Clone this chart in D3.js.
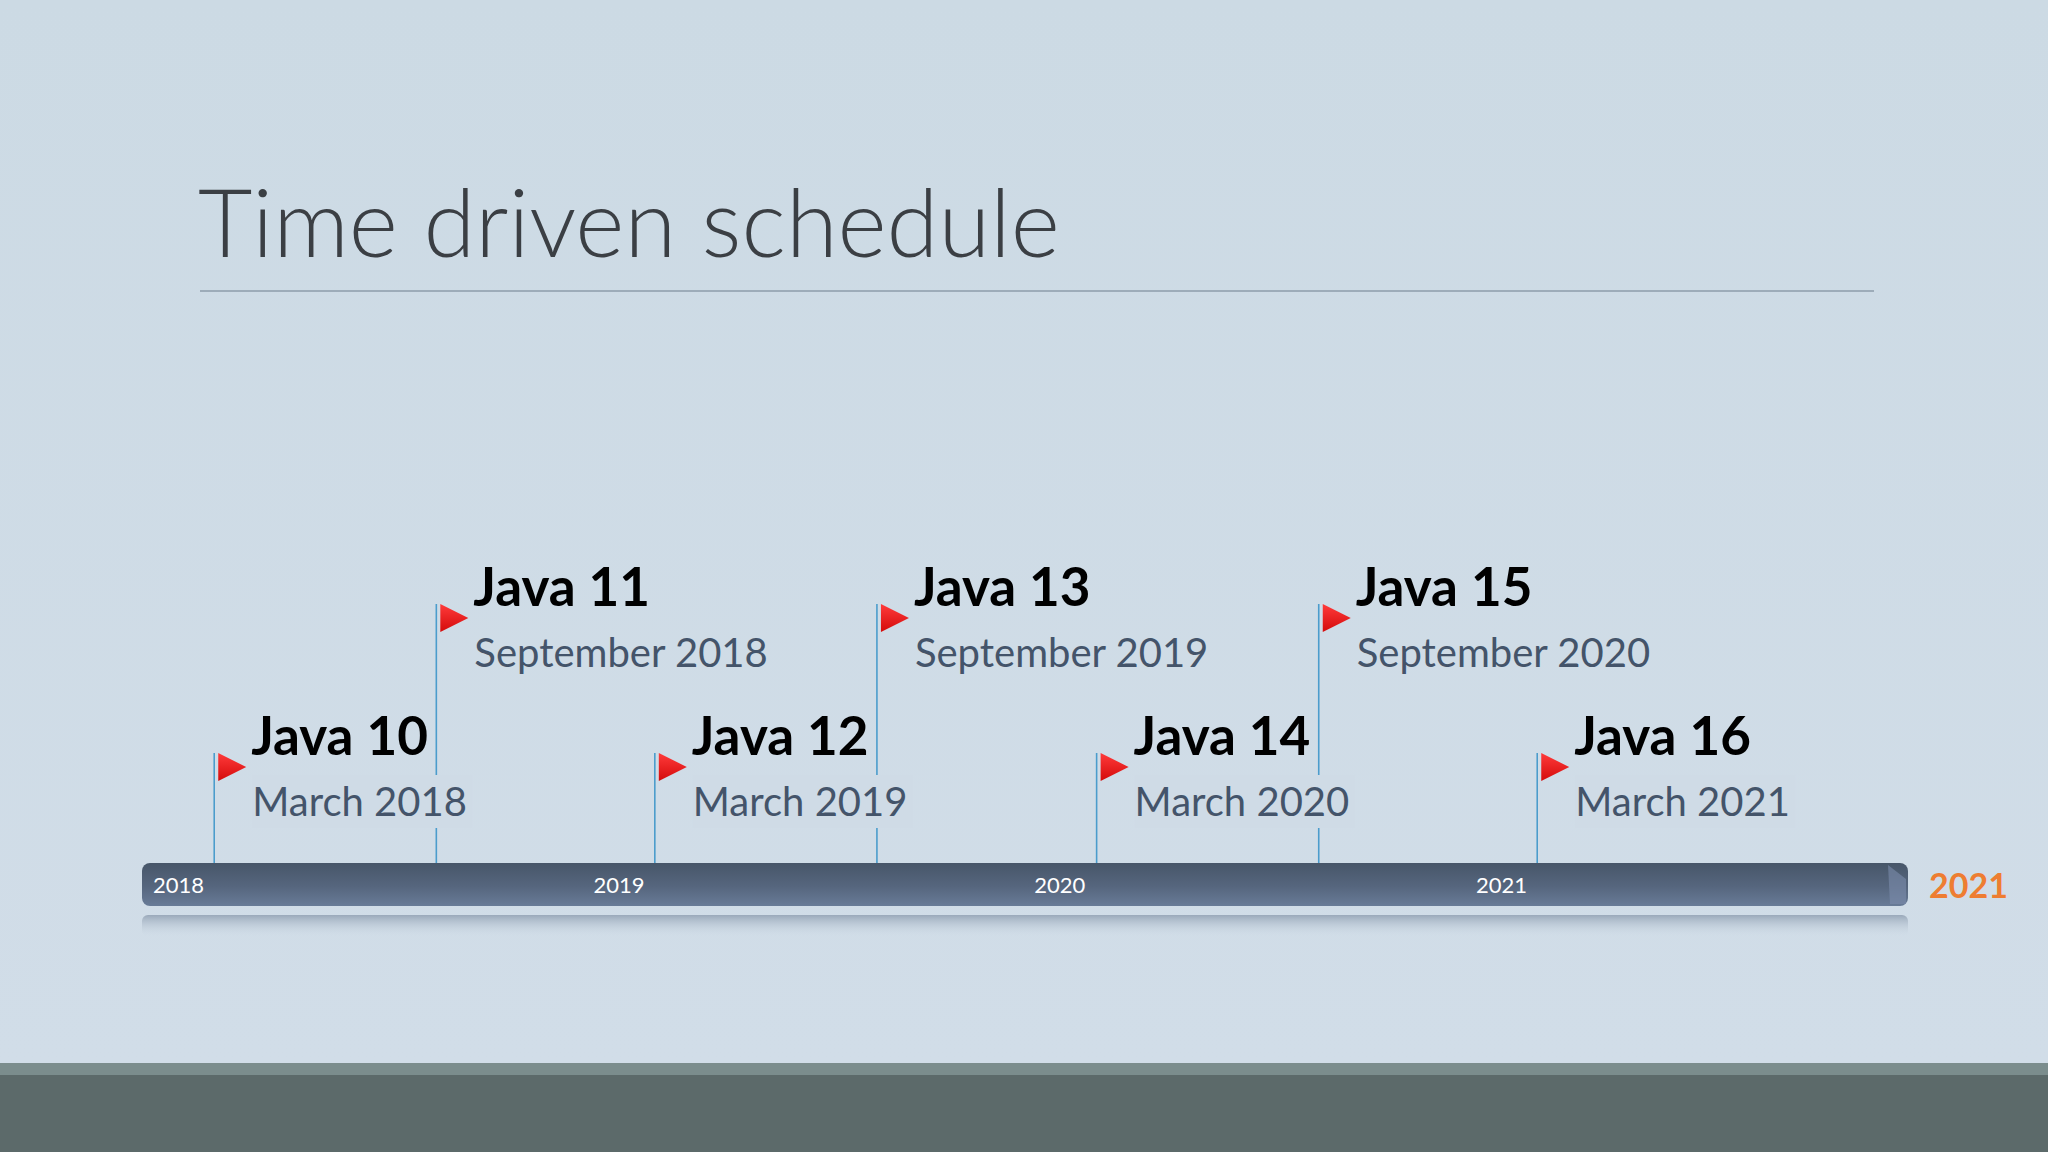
<!DOCTYPE html>
<html><head><meta charset="utf-8">
<script src="https://cdn.jsdelivr.net/npm/d3@7"></script>
<style>html,body{margin:0;padding:0;overflow:hidden}svg{display:block}</style>
</head><body>
<svg id="c" width="2048" height="1152"></svg>
<script>
const releases = ["Java 10","Java 11","Java 12","Java 13","Java 14","Java 15","Java 16"];
const releaseDates = ["2018-03-01","2018-09-01","2019-03-01","2019-09-01","2020-03-01","2020-09-01","2021-03-01"];
const releaseLabels = ["March 2018","September 2018","March 2019","September 2019","March 2020","September 2020","March 2021"];
const rows = [0,1,0,1,0,1,0];
const yearTicks = ["2018","2019","2020","2021"];
const endLabel = "2021";
const title = "Time driven schedule";

const svg = d3.select("#c");
const defs = svg.append("defs");
const bg = defs.append("linearGradient").attr("id","bg").attr("x1",0).attr("y1",0).attr("x2",0).attr("y2",1);
bg.append("stop").attr("offset","0%").attr("stop-color","#ccdae4");
bg.append("stop").attr("offset","100%").attr("stop-color","#d1dde8");
const bar = defs.append("linearGradient").attr("id","bar").attr("x1",0).attr("y1",0).attr("x2",0).attr("y2",1);
bar.append("stop").attr("offset","0%").attr("stop-color","#475669");
bar.append("stop").attr("offset","55%").attr("stop-color","#56667e");
bar.append("stop").attr("offset","100%").attr("stop-color","#687b97");
const refl = defs.append("linearGradient").attr("id","refl").attr("x1",0).attr("y1",0).attr("x2",0).attr("y2",1);
refl.append("stop").attr("offset","0%").attr("stop-color","#9aa9ba");
refl.append("stop").attr("offset","100%").attr("stop-color","#cfdbe6").attr("stop-opacity",0);
const flag = defs.append("linearGradient").attr("id","flag").attr("x1",0).attr("y1",0).attr("x2",0).attr("y2",1);
flag.append("stop").attr("offset","0%").attr("stop-color","#ff3b3b");
flag.append("stop").attr("offset","100%").attr("stop-color","#d40b0b");

svg.append("rect").attr("width",2048).attr("height",1063).attr("fill","url(#bg)");
svg.append("rect").attr("y",1063).attr("width",2048).attr("height",12).attr("fill","#7b8d8d");
svg.append("rect").attr("y",1075).attr("width",2048).attr("height",77).attr("fill","#5c6a6a");

svg.append("text").attr("x",198).attr("y",257).text(title)
  .attr("font-family","Lato").attr("font-weight",300).attr("font-size",94).attr("fill","#3b3f44");
svg.append("line").attr("x1",200).attr("x2",1874).attr("y1",291).attr("y2",291).attr("stroke","#8d9caa").attr("stroke-width",1.5);

const parse = d3.timeParse("%Y-%m-%d");
const x = d3.scaleTime().domain([parse("2018-01-01"), parse("2021-01-01")]).range([143,1466]);
const barTop = 863, barH = 43;

// reflection
svg.append("rect").attr("x",142).attr("y",barTop+barH+9).attr("width",1766).attr("height",22).attr("rx",6).attr("fill","url(#refl)");

const rowBase = [755, 606];
const g = svg.append("g");
releases.forEach((r,i)=>{
  const px = x(parse(releaseDates[i]));
  const b = rowBase[rows[i]];
  const top = b - 2;
  g.append("line").attr("x1",px).attr("x2",px).attr("y1",top).attr("y2",barTop).attr("stroke","#4b9ccc").attr("stroke-width",1.6);
});
// text backgrounds for lower-row dates (cut poles)
releases.forEach((r,i)=>{
  if(rows[i]!==0) return;
  const px = x(parse(releaseDates[i]));
  g.append("rect").attr("x",px+38).attr("y",775).attr("width",220).attr("height",53).attr("fill","#cfdbe6");
});
releases.forEach((r,i)=>{
  const px = x(parse(releaseDates[i]));
  const b = rowBase[rows[i]];
  const fy = b - 2;
  g.append("path").attr("d",`M${px+4},${fy} L${px+32},${fy+14} L${px+4},${fy+28} Z`).attr("fill","url(#flag)");
  g.append("text").attr("x",px+37).attr("y",b).text(r)
    .attr("font-family","Lato").attr("font-weight",700).attr("font-size",53).attr("fill","#000");
  g.append("text").attr("x",px+38).attr("y",b+61).text(releaseLabels[i])
    .attr("font-family","Lato").attr("font-size",40).attr("fill","#44546a");
});

svg.append("rect").attr("x",142).attr("y",barTop).attr("width",1766).attr("height",barH).attr("rx",8).attr("fill","url(#bar)");
svg.append("path").attr("d",`M1888,${barTop+2} L1906,${barTop+16} L1906,${barTop+barH-2} L1890,${barTop+barH-2} Z`).attr("fill","#7b8cab").attr("opacity",0.6);

svg.append("g").selectAll("text").data(yearTicks).join("text")
  .attr("x",d=>x(parse(d+"-01-01"))+10).attr("y",barTop+30).text(d=>d)
  .attr("font-family","Lato").attr("font-size",22).attr("fill","#fff");

svg.append("text").attr("x",1929).attr("y",898).text(endLabel)
  .attr("font-family","Lato").attr("font-weight",700).attr("font-size",34).attr("fill","#ee7d31");
</script>
</body></html>
